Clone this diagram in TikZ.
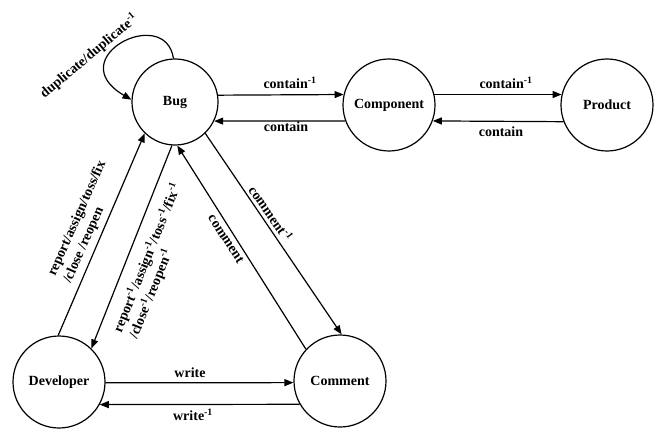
\documentclass[tikz,border=0pt]{standalone}
\usepackage{fontspec}
\setmainfont{Liberation Serif}
\usetikzlibrary{arrows.meta}
\newcommand{\inv}{\textsuperscript{-1}}
\begin{document}
\begin{tikzpicture}[x=1pt,y=-1pt,
  state/.style={circle,draw,line width=1.2pt,minimum size=92pt,inner sep=0pt,font=\fontsize{14}{16}\selectfont\bfseries},
  lbl/.style={font=\fontsize{14}{17}\selectfont\bfseries,inner sep=0pt},
  conn/.style={line width=1.2pt,-{Triangle[length=9pt,width=7pt]}}]
\useasboundingbox (0,0) rectangle (661,433);
\node[state,minimum size=86pt] (bug) at (175,102) {Bug};
\node[state] (comp) at (389,105) {Component};
\node[state] (prod) at (607,105) {Product};
\node[state] (dev) at (59,382) {Developer};
\node[state] (comm) at (340,381) {Comment};

\draw[conn] (bug.9) -- (comp.167);
\draw[conn] (comp.200) -- (bug.-26);
\draw[conn] (comp.13) -- (prod.167);
\draw[conn] (prod.201) -- (comp.-20);
\draw[conn] (dev.-1) -- (comm.182);
\draw[conn] (comm.210) -- (dev.-29);
\draw[conn] (dev.91) -- (bug.226);
\draw[conn] (bug.266) -- (dev.46);
\draw[conn] (comm.137) -- (bug.273);
\draw[conn] (bug.314) -- (comm.88);
\draw[conn] (bug.92) .. controls (165,4) and (60,58) .. (bug.177);

\node[lbl,rotate=40] (ldup) at (89,56) {duplicate/duplicate\inv};
\node[lbl] (lc1) at (290,83) {contain\inv};
\node[lbl] (lc2) at (286,127) {contain};
\node[lbl] (lc3) at (506,83) {contain\inv};
\node[lbl] (lc4) at (501,132) {contain};
\node[lbl] (lw1) at (190,373) {write};
\node[lbl] (lw2) at (193,415) {write\inv};
\node[lbl,rotate=66,align=left] (lrep) at (85,222) {report/assign/toss/fix\\/close /reopen};
\node[lbl,rotate=68,align=left] (lrepi) at (155,261) {report\inv/assign\inv/toss\inv/fix\inv\\/close\inv/reopen\inv};
\node[lbl,rotate=-57] (lcom) at (226,239) {comment};
\node[lbl,rotate=-55] (lcomi) at (271,213) {comment\inv};
\end{tikzpicture}
\end{document}
